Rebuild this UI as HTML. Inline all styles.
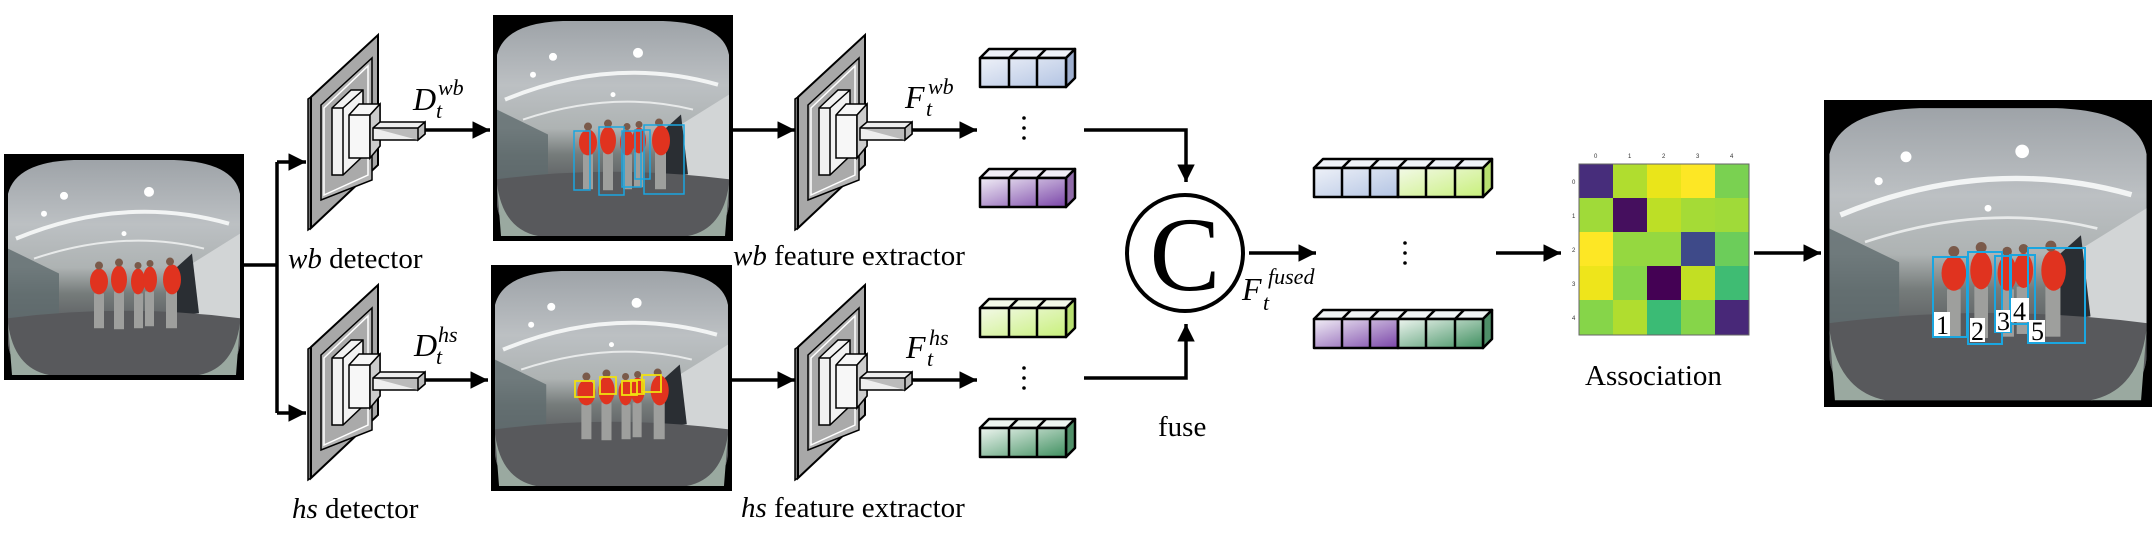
<!DOCTYPE html>
<html><head><meta charset="utf-8">
<style>
html,body{margin:0;padding:0;background:#fff;}
svg{display:block;}
svg text{font-family:'Liberation Serif','DejaVu Serif','Times New Roman',serif;}
svg text.sans{font-family:'Liberation Sans',sans-serif;}
</style></head>
<body>
<svg width="2156" height="537" viewBox="0 0 2156 537" xmlns="http://www.w3.org/2000/svg" style="font-family:'Liberation Serif','DejaVu Serif',serif">
<defs>
  <linearGradient id="ceil" x1="0" y1="0" x2="0" y2="1">
    <stop offset="0" stop-color="#9ea3a8"/>
    <stop offset="0.3" stop-color="#bcc0c3"/>
    <stop offset="0.5" stop-color="#aeb3b3"/>
    <stop offset="0.62" stop-color="#767c7b"/>
    <stop offset="0.8" stop-color="#55575b"/>
    <stop offset="1" stop-color="#666b6a"/>
  </linearGradient>
  <symbol id="photo" viewBox="0 0 240 227" preserveAspectRatio="none">
    <rect width="240" height="227" fill="#000"/>
    <path d="M4,40 Q12,8 70,6 L170,6 Q230,8 236,40 L236,190 Q234,220 195,222 L45,222 Q6,220 4,190 Z" fill="url(#ceil)"/>
    <path d="M4,95 L55,120 L55,165 L4,172 Z" fill="#5f6b6e" opacity="0.8"/>
    <path d="M236,80 L185,112 L185,160 L236,170 Z" fill="#d2d5d6"/>
    <path d="M168,118 L188,100 L195,160 L172,163 Z" fill="#2a2e33"/>
    <path d="M12,85 Q120,40 225,70" stroke="#f2f4f4" stroke-width="4" fill="none"/>
    <path d="M30,105 Q120,75 200,95" stroke="#e8eaea" stroke-width="2" fill="none"/>
    <circle cx="60" cy="42" r="4" fill="#fff"/><circle cx="145" cy="38" r="5" fill="#fff"/>
    <circle cx="40" cy="60" r="3" fill="#fff"/><circle cx="120" cy="80" r="2.5" fill="#fff"/>
    <path d="M4,165 Q120,150 236,165 L236,190 Q234,220 195,222 L45,222 Q6,220 4,190 Z" fill="#58595c"/>
    <path d="M4,170 Q10,215 45,222 L8,222 Z M236,170 Q230,215 195,222 L232,222 Z" fill="#9aa9a0"/>
    <g fill="#9e9f9d">
      <rect x="90" y="140" width="10" height="35"/><rect x="110" y="138" width="10" height="38"/>
      <rect x="130" y="140" width="9" height="35"/><rect x="141" y="138" width="9" height="35"/><rect x="162" y="138" width="11" height="37"/>
    </g>
    <g fill="#e0331f">
      <ellipse cx="95" cy="128" rx="9" ry="13"/><ellipse cx="115" cy="126" rx="8" ry="14"/>
      <ellipse cx="134" cy="128" rx="7" ry="13"/><ellipse cx="146" cy="126" rx="7" ry="13"/><ellipse cx="168" cy="126" rx="9" ry="15"/>
    </g>
    <g fill="#7a5a4a"><circle cx="95" cy="112" r="4"/><circle cx="115" cy="109" r="4"/><circle cx="134" cy="112" r="3.5"/><circle cx="146" cy="110" r="3.5"/><circle cx="166" cy="108" r="4"/></g>
  </symbol>
  <symbol id="net" viewBox="0 0 120 200" overflow="visible">
    <path d="M0,69 L3,67 L3,198 L0,200 Z" fill="#777" stroke="#000" stroke-width="1.5"/>
    <path d="M3,67 L70,5 L70,135 L3,198 Z" fill="#a8a8a8" stroke="#000" stroke-width="2"/>
    <path d="M13,75 L64,28 L64,150 L13,170 Z" fill="#b5b5b5" stroke="#000" stroke-width="1.5"/>
    <path d="M16,78 L60,36 L60,145 L16,165 Z" fill="#aaa" stroke="#fff" stroke-width="1.5"/>
    <path d="M24,78 L43,60 L55,60 L55,126 L35,145 L24,145 Z" fill="#f2f2f2" stroke="#000" stroke-width="1.5"/>
    <path d="M24,78 L35,78 L35,145" fill="none" stroke="#000" stroke-width="1.5"/>
    <path d="M35,78 L55,60" fill="none" stroke="#000" stroke-width="1.5"/>
    <path d="M41,85 L51,74 L72,74 L72,116 L62,128 L41,128 Z" fill="#f7f7f7" stroke="#000" stroke-width="1.5"/>
    <path d="M41,85 L62,85 L62,128 M62,85 L72,74" fill="none" stroke="#000" stroke-width="1.5"/>
    <path d="M62,85 L72,74 L72,116 L62,128 Z" fill="#ccc" stroke="#000" stroke-width="1.5"/>
    <path d="M65,98 L72,92 L117,92 L117,104 L110,110 L65,110 Z" fill="#eee" stroke="#000" stroke-width="1.5"/>
    <path d="M110,98 L117,92 L117,104 L110,110 Z M65,98 L110,98 L110,110" fill="#bbb" stroke="#000" stroke-width="1.5"/>
  </symbol>
  <linearGradient id="gb" x1="0" y1="0" x2="1" y2="1"><stop offset="0" stop-color="#eef1f8"/><stop offset="1" stop-color="#b3c4e3"/></linearGradient>
  <linearGradient id="gp" x1="0" y1="0" x2="1" y2="1"><stop offset="0" stop-color="#f1eef6"/><stop offset="1" stop-color="#7a45a8"/></linearGradient>
  <linearGradient id="gg" x1="0" y1="0" x2="1" y2="1"><stop offset="0" stop-color="#f3f9e8"/><stop offset="1" stop-color="#c8f07a"/></linearGradient>
  <linearGradient id="gd" x1="0" y1="0" x2="1" y2="1"><stop offset="0" stop-color="#eef5f0"/><stop offset="1" stop-color="#3f8f5f"/></linearGradient>
  <marker id="ah" viewBox="0 0 10 10" refX="10" refY="5" markerWidth="5" markerHeight="5" orient="auto" markerUnits="strokeWidth">
    <path d="M0,0 L10,5 L0,10 Z" fill="#000"/></marker>
</defs>

<use href="#photo" x="4" y="154" width="240" height="226"/>
<use href="#photo" x="493" y="15" width="240" height="226"/>
<use href="#photo" x="491" y="265" width="241" height="226"/>
<use href="#photo" x="1824" y="100" width="328" height="307"/>

<g fill="none" stroke="#1aa6e0" stroke-width="1.5">
  <rect x="574" y="131" width="16" height="59"/><rect x="599" y="127" width="25" height="68"/>
  <rect x="622" y="131" width="19" height="56"/><rect x="635" y="130" width="15" height="49"/><rect x="644" y="125" width="40" height="69"/>
</g>
<g fill="none" stroke="#f0e010" stroke-width="1.8">
  <rect x="575" y="381" width="19" height="16"/><rect x="600" y="377" width="16" height="17"/>
  <rect x="622" y="381" width="15" height="14"/><rect x="631" y="380" width="13" height="14"/><rect x="642" y="375" width="19" height="17"/>
</g>
<g fill="none" stroke="#1aa6e0" stroke-width="2">
  <rect x="1933" y="257" width="34" height="80"/><rect x="1968" y="252" width="34" height="92"/>
  <rect x="1995" y="256" width="16" height="76"/><rect x="2010" y="255" width="25" height="69"/><rect x="2028" y="248" width="57" height="95"/>
</g>
<g fill="#fff">
  <rect x="1934" y="312" width="16" height="24"/><rect x="1970" y="318" width="15" height="24"/>
  <rect x="1996" y="310" width="14" height="22"/><rect x="2011" y="298" width="18" height="24"/><rect x="2029" y="320" width="16" height="22"/>
</g>
<g font-size="26">
  <text x="1936" y="334">1</text><text x="1971" y="340">2</text><text x="1997" y="330">3</text><text x="2013" y="320">4</text><text x="2031" y="340">5</text>
</g>

<g stroke="#000" stroke-width="3.5" fill="none">
  <path d="M244,265 L277,265"/>
  <path d="M277,162 L277,413"/>
  <path d="M277,162 L306,162" marker-end="url(#ah)"/>
  <path d="M277,413 L306,413" marker-end="url(#ah)"/>
  <path d="M418,130 L490,130" marker-end="url(#ah)"/>
  <path d="M418,380 L488,380" marker-end="url(#ah)"/>
  <path d="M733,130 L795,130" marker-end="url(#ah)"/>
  <path d="M732,380 L795,380" marker-end="url(#ah)"/>
  <path d="M905,130 L977,130" marker-end="url(#ah)"/>
  <path d="M905,380 L977,380" marker-end="url(#ah)"/>
  <path d="M1084,130 L1186,130 L1186,182" marker-end="url(#ah)"/>
  <path d="M1084,378 L1186,378 L1186,324" marker-end="url(#ah)"/>
  <path d="M1249,253 L1316,253" marker-end="url(#ah)"/>
  <path d="M1496,253 L1561,253" marker-end="url(#ah)"/>
  <path d="M1754,253 L1821,253" marker-end="url(#ah)"/>
</g>

<use href="#net" x="308" y="30" width="120" height="200"/>
<use href="#net" x="308" y="280" width="120" height="200"/>
<use href="#net" x="795" y="30" width="120" height="200"/>
<use href="#net" x="795" y="280" width="120" height="200"/>

<g stroke="#000" stroke-width="2.5" stroke-linejoin="round">
  <g>
    <path d="M980,58 L989,49 L1075,49 L1066,58 Z" fill="#eef1f8"/><path d="M1066,58 L1075,49 L1075,78 L1066,87 Z" fill="#9fb0d0"/>
    <rect x="980" y="58" width="86" height="29" fill="url(#gb)"/><path d="M1009,58 V87 M1037,58 V87 M1009,58 L1018,49 M1037,58 L1046,49" fill="none"/>
  </g>
  <g transform="translate(0,120)">
    <path d="M980,58 L989,49 L1075,49 L1066,58 Z" fill="#f1eef6"/><path d="M1066,58 L1075,49 L1075,78 L1066,87 Z" fill="#8f6aa8"/>
    <rect x="980" y="58" width="86" height="29" fill="url(#gp)"/><path d="M1009,58 V87 M1037,58 V87 M1009,58 L1018,49 M1037,58 L1046,49" fill="none"/>
  </g>
  <g transform="translate(0,250)">
    <path d="M980,58 L989,49 L1075,49 L1066,58 Z" fill="#f3f9e8"/><path d="M1066,58 L1075,49 L1075,78 L1066,87 Z" fill="#b8e070"/>
    <rect x="980" y="58" width="86" height="29" fill="url(#gg)"/><path d="M1009,58 V87 M1037,58 V87 M1009,58 L1018,49 M1037,58 L1046,49" fill="none"/>
  </g>
  <g transform="translate(0,370)">
    <path d="M980,58 L989,49 L1075,49 L1066,58 Z" fill="#eef5f0"/><path d="M1066,58 L1075,49 L1075,78 L1066,87 Z" fill="#4f8f68"/>
    <rect x="980" y="58" width="86" height="29" fill="url(#gd)"/><path d="M1009,58 V87 M1037,58 V87 M1009,58 L1018,49 M1037,58 L1046,49" fill="none"/>
  </g>
  <g>
    <path d="M1314,168 L1323,159 L1492,159 L1483,168 Z" fill="#f0f3f8"/><path d="M1483,168 L1492,159 L1492,188 L1483,197 Z" fill="#b8e070"/>
    <rect x="1314" y="168" width="84" height="29" fill="url(#gb)"/><rect x="1398" y="168" width="85" height="29" fill="url(#gg)"/>
    <path d="M1342,168 V197 M1370,168 V197 M1398,168 V197 M1426,168 V197 M1455,168 V197 M1342,168 L1351,159 M1370,168 L1379,159 M1398,168 L1407,159 M1426,168 L1435,159 M1455,168 L1464,159" fill="none"/>
  </g>
  <g>
    <path d="M1314,319 L1323,310 L1492,310 L1483,319 Z" fill="#f0f3f4"/><path d="M1483,319 L1492,310 L1492,339 L1483,348 Z" fill="#4f8f68"/>
    <rect x="1314" y="319" width="84" height="29" fill="url(#gp)"/><rect x="1398" y="319" width="85" height="29" fill="url(#gd)"/>
    <path d="M1342,319 V348 M1370,319 V348 M1398,319 V348 M1426,319 V348 M1455,319 V348 M1342,319 L1351,310 M1370,319 L1379,310 M1398,319 L1407,310 M1426,319 L1435,310 M1455,319 L1464,310" fill="none"/>
  </g>
</g>
<g fill="#000">
  <circle cx="1024" cy="118" r="1.8"/><circle cx="1024" cy="128" r="1.8"/><circle cx="1024" cy="138" r="1.8"/>
  <circle cx="1024" cy="368" r="1.8"/><circle cx="1024" cy="378" r="1.8"/><circle cx="1024" cy="388" r="1.8"/>
  <circle cx="1405" cy="243" r="1.8"/><circle cx="1405" cy="253" r="1.8"/><circle cx="1405" cy="263" r="1.8"/>
</g>

<circle cx="1185" cy="253" r="58" fill="#fff" stroke="#000" stroke-width="4"/>
<text x="1185" y="290" font-size="106" text-anchor="middle">C</text>

<g>
  <rect x="1579" y="164" width="34" height="34" fill="#472d7b"/><rect x="1613" y="164" width="34" height="34" fill="#b0dd2f"/><rect x="1647" y="164" width="34" height="34" fill="#eae51a"/><rect x="1681" y="164" width="34" height="34" fill="#fde725"/><rect x="1715" y="164" width="34" height="34" fill="#7ad151"/>
  <rect x="1579" y="198" width="34" height="34" fill="#a0da39"/><rect x="1613" y="198" width="34" height="34" fill="#450f5e"/><rect x="1647" y="198" width="34" height="34" fill="#bddf26"/><rect x="1681" y="198" width="34" height="34" fill="#a5db36"/><rect x="1715" y="198" width="34" height="34" fill="#a0da39"/>
  <rect x="1579" y="232" width="34" height="34" fill="#fde725"/><rect x="1613" y="232" width="34" height="34" fill="#95d840"/><rect x="1647" y="232" width="34" height="34" fill="#95d840"/><rect x="1681" y="232" width="34" height="34" fill="#3e4a89"/><rect x="1715" y="232" width="34" height="34" fill="#6ccd5a"/>
  <rect x="1579" y="266" width="34" height="34" fill="#eee51b"/><rect x="1613" y="266" width="34" height="34" fill="#86d549"/><rect x="1647" y="266" width="34" height="34" fill="#440154"/><rect x="1681" y="266" width="34" height="34" fill="#c2df23"/><rect x="1715" y="266" width="34" height="34" fill="#3fbc73"/>
  <rect x="1579" y="300" width="34" height="35" fill="#86d549"/><rect x="1613" y="300" width="34" height="35" fill="#b0dd2f"/><rect x="1647" y="300" width="34" height="35" fill="#3bbb75"/><rect x="1681" y="300" width="34" height="35" fill="#86d549"/><rect x="1715" y="300" width="34" height="35" fill="#482878"/>
  <rect x="1579" y="164" width="170" height="171" fill="none" stroke="#666" stroke-width="1"/>
</g>
<g font-size="6" fill="#333">
  <text class="sans" x="1594" y="158">0</text><text class="sans" x="1628" y="158">1</text><text class="sans" x="1662" y="158">2</text><text class="sans" x="1696" y="158">3</text><text class="sans" x="1730" y="158">4</text>
  <text class="sans" x="1572" y="184">0</text><text class="sans" x="1572" y="218">1</text><text class="sans" x="1572" y="252">2</text><text class="sans" x="1572" y="286">3</text><text class="sans" x="1572" y="320">4</text>
</g>

<g font-size="29">
  <text x="288" y="268"><tspan font-style="italic">wb</tspan> detector</text>
  <text x="292" y="518"><tspan font-style="italic">hs</tspan> detector</text>
  <text x="733" y="265"><tspan font-style="italic">wb</tspan> feature extractor</text>
  <text x="741" y="517"><tspan font-style="italic">hs</tspan> feature extractor</text>
  <text x="1158" y="436">fuse</text>
  <text x="1585" y="385">Association</text>
</g>
<g font-style="italic">
  <text x="413" y="110" font-size="32">D</text><text x="436" y="118" font-size="22">t</text><text x="438" y="95" font-size="22">wb</text>
  <text x="414" y="356" font-size="32">D</text><text x="436" y="364" font-size="22">t</text><text x="438" y="342" font-size="22">hs</text>
  <text x="905" y="108" font-size="32">F</text><text x="926" y="116" font-size="22">t</text><text x="928" y="94" font-size="22">wb</text>
  <text x="906" y="358" font-size="32">F</text><text x="927" y="366" font-size="22">t</text><text x="929" y="345" font-size="22">hs</text>
  <text x="1242" y="300" font-size="32">F</text><text x="1263" y="310" font-size="22">t</text><text x="1268" y="284" font-size="22">fused</text>
</g>
</svg>
</body></html>
